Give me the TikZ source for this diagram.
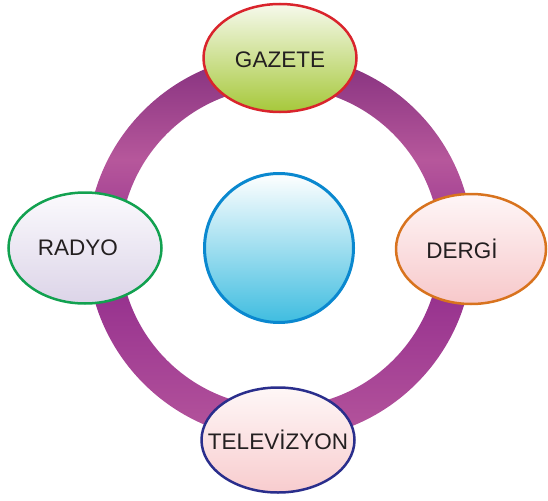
\documentclass[tikz,border=0pt]{standalone}
\usepackage{fontspec}
\setmainfont{Liberation Sans}
\usetikzlibrary{shapes.geometric}

\definecolor{ringdark}{RGB}{132,48,126}
\definecolor{ringlight}{RGB}{182,87,155}
\definecolor{ringmid}{RGB}{145,43,140}
\definecolor{ringlow}{RGB}{181,85,156}
\definecolor{inkgray}{RGB}{35,31,32}

\pgfdeclareverticalshading{ringshade}{100bp}{%
  color(0bp)=(ringlow); color(25bp)=(ringlow); color(47.7bp)=(ringmid);
  color(61.3bp)=(ringlight); color(75bp)=(ringdark); color(100bp)=(ringdark)}

\tikzset{
  medium/.style={ellipse, inner sep=0pt, line width=2.5pt,
    minimum width=153pt, minimum height=108pt},
  mlabel/.style={text=inkgray, font=\fontsize{22.5}{26}\selectfont},
}

\begin{document}
\begin{tikzpicture}[x=1pt, y=-1pt]
		\useasboundingbox (0,0) rectangle (548,500);
		%		\draw[lightgray] (0,0) grid[step=50] (548,500);
				\shade[shading=ringshade, even odd rule] (280,247) circle (193pt)
				(280,247) circle (160pt); % ring
				
				\node[circle, draw={rgb,255:red,10;green,136;blue,207}, line width=3pt,
				top color=white, bottom color={rgb,255:red,63;green,189;blue,224},
				minimum size=149pt, inner sep=0pt] (hub) at (279,248) {}; % centre
				
				\node[medium, draw={rgb,255:red,217;green,36;blue,44},
				top color={rgb,255:red,246;green,249;blue,236},
				bottom color={rgb,255:red,166;green,200;blue,58},
				label={[mlabel, yshift=-2pt]center:GAZETE}] (gazete) at (280,58) {};
				\node[medium, minimum width=150pt, minimum height=110pt,
				draw={rgb,255:red,216;green,115;blue,30},
				top color={rgb,255:red,254;green,246;blue,247},
				bottom color={rgb,255:red,247;green,200;blue,202},
				label={[mlabel, xshift=-9pt]center:DERGİ}] (dergi) at (471,249) {};
				\node[medium, minimum height=111pt, draw={rgb,255:red,18;green,161;blue,80},
				top color={rgb,255:red,251;green,250;blue,253},
				bottom color={rgb,255:red,220;green,212;blue,232},
				label={[mlabel, xshift=-7pt]center:RADYO}] (radyo) at (85,248) {};
				\node[medium, minimum height=105pt, draw={rgb,255:red,42;green,46;blue,140},
				top color={rgb,255:red,254;green,247;blue,247},
				bottom color={rgb,255:red,248;green,204;blue,206},
				label={[mlabel]center:TELEVİZYON}] (tv) at (278,440) {};
				
			\end{tikzpicture}
\end{document}
